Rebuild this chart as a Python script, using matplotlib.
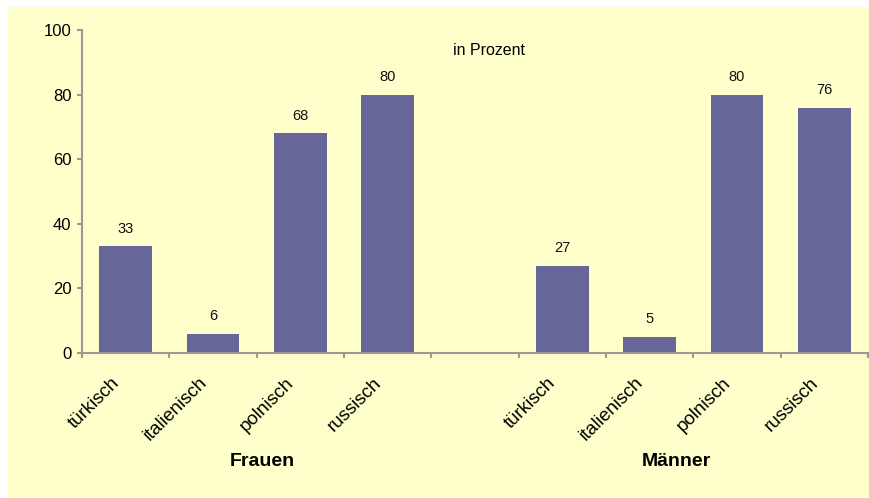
import matplotlib
matplotlib.use("Agg")
import matplotlib.pyplot as plt
from matplotlib.patches import Rectangle

# Sprachkenntnisse nach Herkunftssprache, in Prozent
languages = ["türkisch", "italienisch", "polnisch", "russisch"]
frauen = [33, 6, 68, 80]
maenner = [27, 5, 80, 76]
groups = ["Frauen", "Männer"]

BAR_COLOR = "#666699"
BG_COLOR = "#FFFFCC"
AXIS_COLOR = "#999999"

plt.rcParams["font.family"] = ["Liberation Sans", "DejaVu Sans"]

fig = plt.figure(figsize=(8.7, 4.98), dpi=100)
fig.patch.set_facecolor("white")
# yellow chart area with a small white margin at top/left
fig.patches.append(Rectangle((8 / 870, 0), 1, 1 - 7 / 498, transform=fig.transFigure,
                             facecolor=BG_COLOR, edgecolor="none", zorder=-1))

ax = fig.add_axes([82 / 870, 1 - 353 / 498, 786 / 870, 323 / 498])
ax.set_facecolor("none")
ax.set_zorder(2)

# Frauen on slots 0-3, empty slot 4, Männer on slots 5-8
values = frauen + [None] + maenner
labels = languages + [""] + languages
positions = list(range(len(values)))

for x, v in zip(positions, values):
    if v is None:
        continue
    ax.bar(x, v, width=0.6, color=BAR_COLOR, zorder=2)
    ax.annotate(str(v), (x, v), xytext=(0, 7.5), textcoords="offset points",
                ha="center", va="bottom", fontsize=10.5, color="#111111")

ax.set_xlim(-0.5, len(values) - 0.5)
ax.set_ylim(0, 100)
ax.set_yticks(range(0, 101, 20))
ax.tick_params(axis="y", length=3.5, width=1.5, color=AXIS_COLOR, labelsize=12, pad=4)

# category ticks sit between the bars
ax.set_xticks([p - 0.5 for p in positions] + [len(values) - 0.5])
ax.set_xticklabels([])
ax.tick_params(axis="x", length=3.5, width=1.5, color=AXIS_COLOR)
for x, lab in zip(positions, labels):
    if lab:
        ax.text(x - 0.17, -6.5, lab, rotation=45, rotation_mode="anchor",
                ha="right", va="top", fontsize=13.5, clip_on=False)

for side in ["top", "right"]:
    ax.spines[side].set_visible(False)
for side in ["left", "bottom"]:
    ax.spines[side].set_color(AXIS_COLOR)
    ax.spines[side].set_linewidth(1.5)

ax.text(1.57, -33.7, groups[0], ha="center", va="center", fontsize=14,
        fontweight="bold", clip_on=False)
ax.text(6.31, -33.7, groups[1], ha="center", va="center", fontsize=14,
        fontweight="bold", clip_on=False)

ax.text(4.16, 93.8, "in Prozent", ha="center", va="center", fontsize=11.5)

fig.savefig("out.png", dpi=100, facecolor=fig.get_facecolor())
plt.close(fig)
